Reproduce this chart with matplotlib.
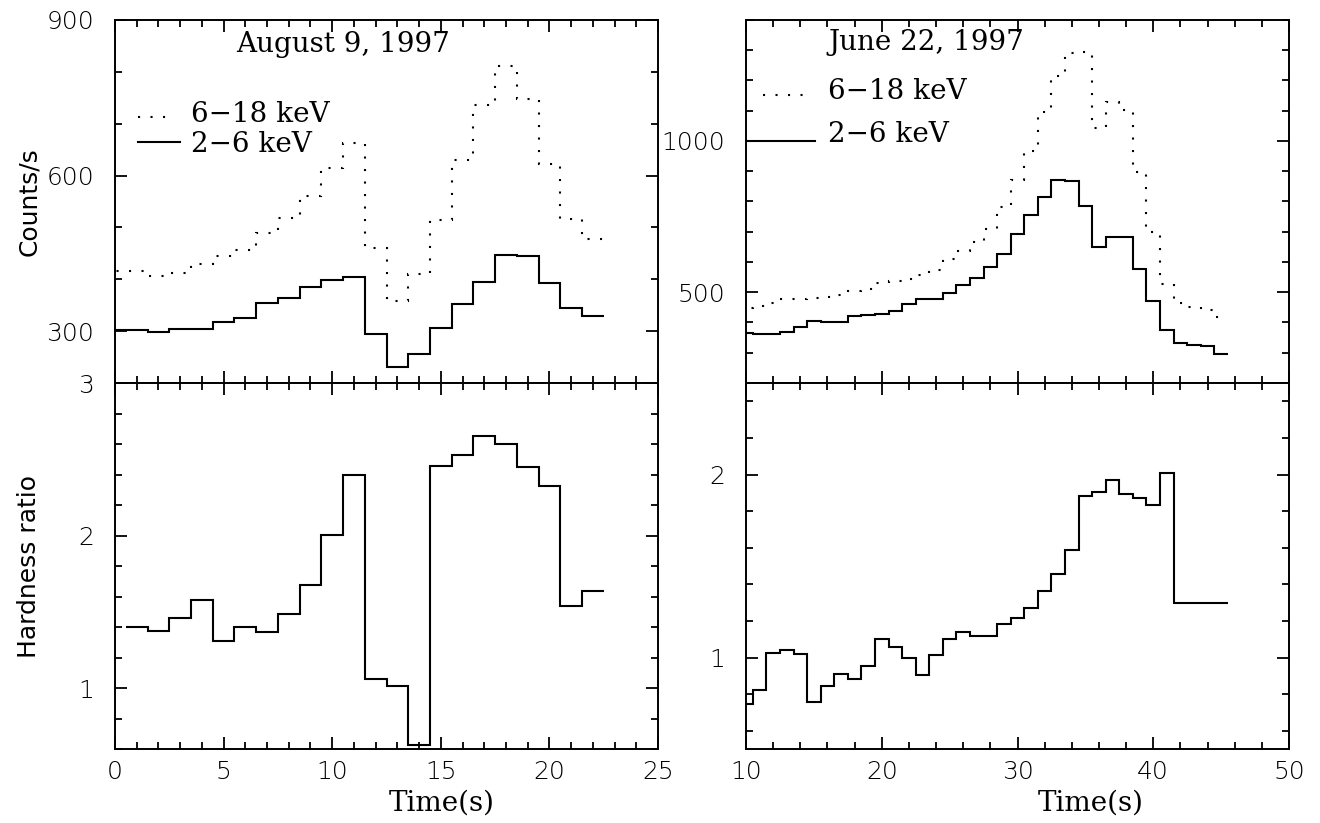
import numpy as np
import matplotlib
matplotlib.use("Agg")
import matplotlib.pyplot as plt
from matplotlib.ticker import MultipleLocator

plt.rcParams["font.family"] = "DejaVu Sans"
plt.rcParams["font.size"] = 18
plt.rcParams["font.weight"] = "light"

# August 9, 1997 burst: 1 s bins centred on integer times
t_aug = np.arange(0, 23)
aug_hard_counts = [416, 416, 407, 413, 429, 445, 456, 490, 518, 560, 614, 662,
                   461, 359, 410, 515, 630, 737, 812, 748, 622, 517, 477]
aug_soft_counts = [302, 302, 298, 304, 304, 317, 325, 354, 364, 386, 399, 405,
                   294, 230, 255, 306, 352, 395, 447, 444, 393, 344, 329]
t_aug_hr = np.arange(1, 23)
aug_ratio = [1.40, 1.376, 1.462, 1.58, 1.308, 1.398, 1.367, 1.488, 1.673, 2.002,
             2.396, 1.057, 1.013, 0.624, 2.459, 2.527, 2.655, 2.602, 2.448,
             2.325, 1.541, 1.637]

# June 22, 1997 burst
t_jun = np.arange(10, 46)
jun_hard_counts = [448, 454, 466, 477, 479, 481, 484, 490, 503, 512, 529, 538,
                   545, 556, 573, 611, 638, 666, 710, 781, 872, 968, 1095, 1215,
                   1292, 1294, 1043, 1130, 1103, 897, 699, 527, 463, 451, 441, 419]
jun_soft_counts = [366, 362, 362, 370, 385, 404, 403, 401, 421, 425, 428, 438,
                   460, 479, 479, 499, 523, 546, 582, 628, 692, 754, 816, 870,
                   869, 785, 648, 682, 682, 576, 472, 375, 331, 326, 321, 297]
jun_ratio = [0.744, 0.824, 1.026, 1.040, 1.018, 0.756, 0.842, 0.910, 0.883,
             0.956, 1.099, 1.057, 0.996, 0.903, 1.013, 1.103, 1.141, 1.119,
             1.115, 1.185, 1.216, 1.271, 1.364, 1.458, 1.588, 1.881, 1.903,
             1.971, 1.892, 1.874, 1.833, 2.007, 1.300, 1.300, 1.300, 1.300]

DOTS = (0, (1, 5))
LW = 1.5
SERIF = "DejaVu Serif"
SERIF_SIZE = 20


def edges(t):
    t = np.asarray(t, dtype=float)
    return np.append(t - 0.5, t[-1] + 0.5)


def style(ax, xmaj, xmin, ymaj, ymin):
    ax.xaxis.set_major_locator(MultipleLocator(xmaj))
    ax.xaxis.set_minor_locator(MultipleLocator(xmin))
    ax.yaxis.set_major_locator(MultipleLocator(ymaj))
    ax.yaxis.set_minor_locator(MultipleLocator(ymin))
    ax.tick_params(which="both", direction="in", top=True, right=True,
                   width=1.3, colors="black")
    ax.tick_params(which="major", length=8.5)
    ax.tick_params(which="minor", length=5)
    ax.tick_params(axis="y", pad=15)
    ax.tick_params(axis="x", pad=8)
    for s in ax.spines.values():
        s.set_linewidth(1.4)


fig = plt.figure(figsize=(13.2, 8.23), dpi=100)
W = 543 / 1320
ax_lt = fig.add_axes([115 / 1320, 0.53463, W, 0.44107])
ax_lb = fig.add_axes([115 / 1320, 0.08991, W, 0.44471])
ax_rt = fig.add_axes([746 / 1320, 0.53463, W, 0.44107])
ax_rb = fig.add_axes([746 / 1320, 0.08991, W, 0.44471])

# August 9 light curves and hardness ratio
ax_lt.stairs(aug_hard_counts, edges(t_aug), baseline=None, color="black",
             lw=LW, ls=DOTS)
ax_lt.stairs(aug_soft_counts, edges(t_aug), baseline=None, color="black",
             lw=LW)
ax_lt.set_xlim(0, 25)
ax_lt.set_ylim(200, 900)
style(ax_lt, 5, 1, 300, 100)
ax_lt.tick_params(labelbottom=False)
ax_lt.set_ylabel("Counts/s")
ax_lt.yaxis.set_label_coords(-0.136, 0.5)

ax_lb.stairs(aug_ratio, edges(t_aug_hr), baseline=None, color="black", lw=LW)
ax_lb.set_xlim(0, 25)
ax_lb.set_ylim(0.6, 3.0)
style(ax_lb, 5, 1, 1, 0.2)
ax_lb.set_ylabel("Hardness ratio")
ax_lb.yaxis.set_label_coords(-0.136, 0.5)
ax_lb.set_xlabel("Time(s)", family=SERIF, fontsize=SERIF_SIZE, weight="normal")
ax_lb.xaxis.set_label_coords(0.602, -0.11)

# June 22 light curves and hardness ratio
ax_rt.stairs(jun_hard_counts, edges(t_jun), baseline=None, color="black",
             lw=LW, ls=DOTS)
ax_rt.stairs(jun_soft_counts, edges(t_jun), baseline=None, color="black",
             lw=LW)
ax_rt.set_xlim(10, 50)
ax_rt.set_ylim(200, 1400)
style(ax_rt, 10, 2, 500, 100)
ax_rt.tick_params(labelbottom=False)

ax_rb.stairs(jun_ratio, edges(t_jun), baseline=None, color="black", lw=LW)
ax_rb.set_xlim(10, 50)
ax_rb.set_ylim(0.5, 2.5)
style(ax_rb, 10, 2, 1, 0.2)
ax_rb.set_xlabel("Time(s)", family=SERIF, fontsize=SERIF_SIZE, weight="normal")
ax_rb.xaxis.set_label_coords(0.634, -0.11)

# Titles and hand-drawn keys
tkw = dict(family=SERIF, fontsize=SERIF_SIZE, weight="normal",
           va="baseline", ha="left")
ax_lt.text(0.223, 0.912, "August 9, 1997", transform=ax_lt.transAxes, **tkw)
ax_lt.plot([0.042, 0.107], [0.733, 0.733], transform=ax_lt.transAxes,
           color="black", lw=LW, ls=DOTS)
ax_lt.text(0.140, 0.719, "6\u221218 keV", transform=ax_lt.transAxes, **tkw)
ax_lt.plot([0.042, 0.120], [0.664, 0.664], transform=ax_lt.transAxes,
           color="black", lw=LW)
ax_lt.text(0.140, 0.636, "2\u22126 keV", transform=ax_lt.transAxes, **tkw)

ax_rt.text(0.151, 0.917, "June 22, 1997", transform=ax_rt.transAxes, **tkw)
ax_rt.plot([0.031, 0.112], [0.793, 0.793], transform=ax_rt.transAxes,
           color="black", lw=LW, ls=DOTS)
ax_rt.text(0.151, 0.781, "6\u221218 keV", transform=ax_rt.transAxes, **tkw)
ax_rt.plot([0.0, 0.127], [0.667, 0.667], transform=ax_rt.transAxes,
           color="black", lw=LW)
ax_rt.text(0.151, 0.664, "2\u22126 keV", transform=ax_rt.transAxes, **tkw)

fig.savefig("out.png", dpi=100, facecolor="white")
